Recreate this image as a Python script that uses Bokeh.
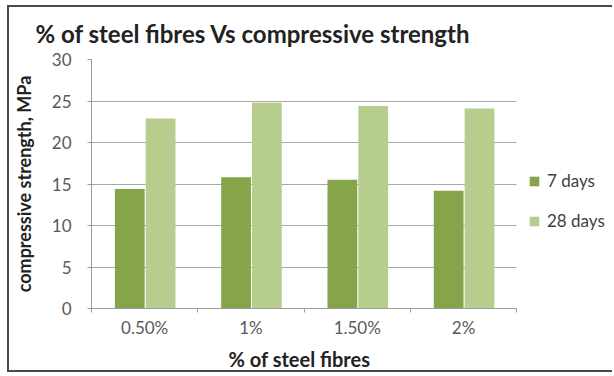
from bokeh.plotting import figure
from bokeh.models import (ColumnDataSource, Legend, LegendItem, FixedTicker, Title, Range1d)
from bokeh.transform import dodge
from bokeh.embed import file_html
from bokeh.resources import INLINE

categories = ["0.50%", "1%", "1.50%", "2%"]
days7 = [14.4, 15.8, 15.5, 14.2]
days28 = [22.9, 24.8, 24.4, 24.1]
y_ticks = [0, 5, 10, 15, 20, 25, 30]

FONT = "Lato"
xpos = list(range(len(categories)))
src = ColumnDataSource(dict(x=xpos, cat=categories, d7=days7, d28=days28))

n = len(categories)
p = figure(x_range=Range1d(-0.5, n - 0.5 + 0.92), y_range=(0, 30), width=605, height=367,
           output_backend="svg", toolbar_location=None,
           min_border_left=82, min_border_right=0, min_border_top=52, min_border_bottom=10)
p.margin = (5, 0, 0, 7)
p.styles = {"border-left": "2px solid #4a4a4a", "border-top": "2px solid #4a4a4a",
            "border-bottom": "2px solid #4a4a4a"}

p.title.visible = False
t = Title(text="% of steel fibres Vs compressive strength", align="left", offset=-56,
          text_font=FONT, text_font_size="24px", text_font_style="bold", text_color="#222222",
          standoff=20, vertical_align="top")
p.add_layout(t, "above")

r1 = p.vbar(x=dodge("x", -0.14), top="d7", width=0.28, source=src,
            fill_color="#86A44A", line_color=None)
r2 = p.vbar(x=dodge("x", 0.15), top="d28", width=0.28, source=src,
            fill_color="#B6CD8E", line_color=None)

p.yaxis.ticker = FixedTicker(ticks=y_ticks)
p.xaxis.ticker = FixedTicker(ticks=xpos, minor_ticks=[i - 0.5 for i in range(n + 1)])
p.xaxis.major_label_overrides = {i: c for i, c in zip(xpos, categories)}
p.xaxis.bounds = (-0.5, n - 0.5)
p.yaxis.axis_label = "compressive strength, MPa"

for ax in (p.xaxis[0], p.yaxis[0]):
    ax.axis_label_text_font = FONT
    ax.axis_label_text_font_style = "bold"
    ax.axis_label_text_color = "#222222"
    ax.major_label_text_font = FONT
    ax.major_label_text_font_size = "17px"
    ax.major_label_text_color = "#595959"
    ax.axis_line_color = "#9a9a9a"
    ax.major_tick_line_color = "#9a9a9a"
p.yaxis.axis_label_text_font_size = "18px"
p.yaxis.minor_tick_line_color = None
p.xaxis.major_tick_line_color = None
p.xaxis.major_tick_out = 0
p.xaxis.major_tick_in = 0
p.xaxis.minor_tick_line_color = "#9a9a9a"
p.xaxis.minor_tick_out = 4
p.xaxis.minor_tick_in = 0
p.xaxis.major_label_standoff = 4
p.yaxis.major_tick_out = 4
p.yaxis.major_tick_in = 0
p.yaxis.major_label_standoff = 16
p.yaxis.axis_label_standoff = 14

xt = Title(text="%  of steel fibres", align="left", offset=137,
           text_font=FONT, text_font_size="20px", text_font_style="bold", text_color="#222222",
           standoff=8)
p.add_layout(xt, "below")

p.xgrid.grid_line_color = None
p.ygrid.grid_line_color = "#a8a8a8"
p.ygrid.grid_line_width = 1
p.ygrid.cross_bounds = (-0.5, n - 0.5)
p.outline_line_color = None

legend = Legend(items=[LegendItem(label="7 days", renderers=[r1]),
                       LegendItem(label="28 days", renderers=[r2])],
                location=(437, 77), background_fill_alpha=0, border_line_color=None,
                label_text_font=FONT, label_text_font_size="17px", label_text_color="#404040",
                glyph_width=12, glyph_height=12, spacing=19, label_standoff=7,
                padding=0, margin=0)
p.add_layout(legend, "center")

open("out.html", "w").write(file_html(p, INLINE))
